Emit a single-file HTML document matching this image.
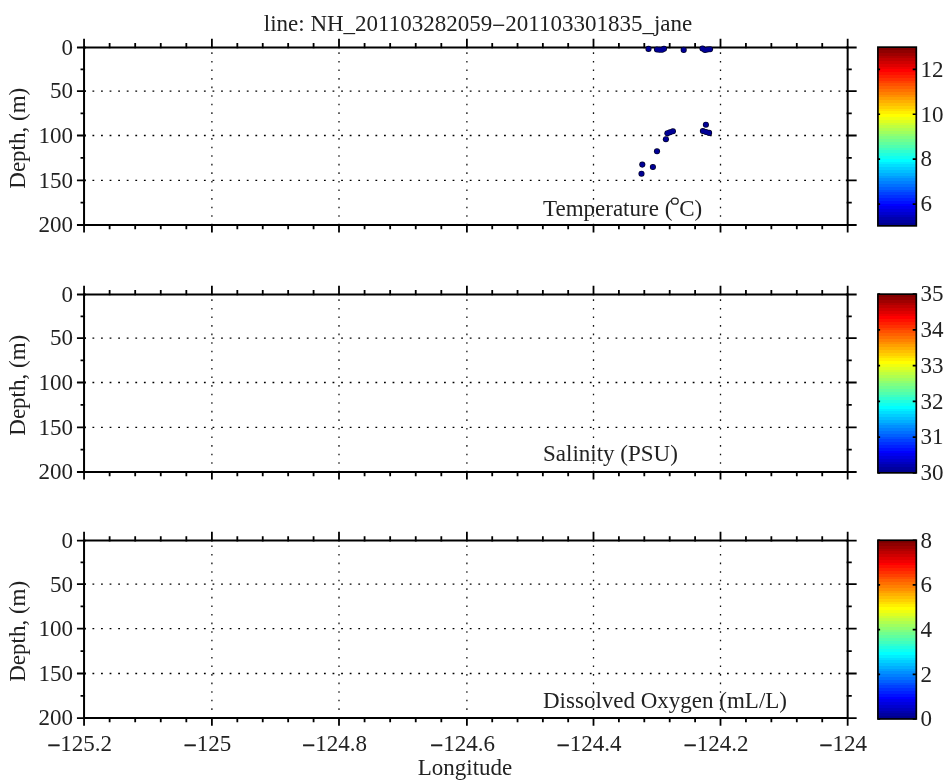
<!DOCTYPE html>
<html><head><meta charset="utf-8"><style>
html,body{margin:0;padding:0;background:#fff;width:950px;height:783px;overflow:hidden}
svg{display:block;position:absolute;left:0;top:0;will-change:transform}
svg text{font-family:"Liberation Serif",serif;fill:#222}
</style></head><body>
<svg width="950" height="783" viewBox="0 0 950 783">
<rect width="950" height="783" fill="#fff"/>
<defs><linearGradient id="jet" x1="0" y1="1" x2="0" y2="0"><stop offset="0.0000%" stop-color="#00008f"/><stop offset="1.5625%" stop-color="#00008f"/><stop offset="1.5625%" stop-color="#00009f"/><stop offset="3.1250%" stop-color="#00009f"/><stop offset="3.1250%" stop-color="#0000af"/><stop offset="4.6875%" stop-color="#0000af"/><stop offset="4.6875%" stop-color="#0000bf"/><stop offset="6.2500%" stop-color="#0000bf"/><stop offset="6.2500%" stop-color="#0000cf"/><stop offset="7.8125%" stop-color="#0000cf"/><stop offset="7.8125%" stop-color="#0000df"/><stop offset="9.3750%" stop-color="#0000df"/><stop offset="9.3750%" stop-color="#0000ef"/><stop offset="10.9375%" stop-color="#0000ef"/><stop offset="10.9375%" stop-color="#0000ff"/><stop offset="12.5000%" stop-color="#0000ff"/><stop offset="12.5000%" stop-color="#0010ff"/><stop offset="14.0625%" stop-color="#0010ff"/><stop offset="14.0625%" stop-color="#0020ff"/><stop offset="15.6250%" stop-color="#0020ff"/><stop offset="15.6250%" stop-color="#0030ff"/><stop offset="17.1875%" stop-color="#0030ff"/><stop offset="17.1875%" stop-color="#0040ff"/><stop offset="18.7500%" stop-color="#0040ff"/><stop offset="18.7500%" stop-color="#0050ff"/><stop offset="20.3125%" stop-color="#0050ff"/><stop offset="20.3125%" stop-color="#0060ff"/><stop offset="21.8750%" stop-color="#0060ff"/><stop offset="21.8750%" stop-color="#0070ff"/><stop offset="23.4375%" stop-color="#0070ff"/><stop offset="23.4375%" stop-color="#0080ff"/><stop offset="25.0000%" stop-color="#0080ff"/><stop offset="25.0000%" stop-color="#008fff"/><stop offset="26.5625%" stop-color="#008fff"/><stop offset="26.5625%" stop-color="#009fff"/><stop offset="28.1250%" stop-color="#009fff"/><stop offset="28.1250%" stop-color="#00afff"/><stop offset="29.6875%" stop-color="#00afff"/><stop offset="29.6875%" stop-color="#00bfff"/><stop offset="31.2500%" stop-color="#00bfff"/><stop offset="31.2500%" stop-color="#00cfff"/><stop offset="32.8125%" stop-color="#00cfff"/><stop offset="32.8125%" stop-color="#00dfff"/><stop offset="34.3750%" stop-color="#00dfff"/><stop offset="34.3750%" stop-color="#00efff"/><stop offset="35.9375%" stop-color="#00efff"/><stop offset="35.9375%" stop-color="#00ffff"/><stop offset="37.5000%" stop-color="#00ffff"/><stop offset="37.5000%" stop-color="#10ffef"/><stop offset="39.0625%" stop-color="#10ffef"/><stop offset="39.0625%" stop-color="#20ffdf"/><stop offset="40.6250%" stop-color="#20ffdf"/><stop offset="40.6250%" stop-color="#30ffcf"/><stop offset="42.1875%" stop-color="#30ffcf"/><stop offset="42.1875%" stop-color="#40ffbf"/><stop offset="43.7500%" stop-color="#40ffbf"/><stop offset="43.7500%" stop-color="#50ffaf"/><stop offset="45.3125%" stop-color="#50ffaf"/><stop offset="45.3125%" stop-color="#60ff9f"/><stop offset="46.8750%" stop-color="#60ff9f"/><stop offset="46.8750%" stop-color="#70ff8f"/><stop offset="48.4375%" stop-color="#70ff8f"/><stop offset="48.4375%" stop-color="#80ff80"/><stop offset="50.0000%" stop-color="#80ff80"/><stop offset="50.0000%" stop-color="#8fff70"/><stop offset="51.5625%" stop-color="#8fff70"/><stop offset="51.5625%" stop-color="#9fff60"/><stop offset="53.1250%" stop-color="#9fff60"/><stop offset="53.1250%" stop-color="#afff50"/><stop offset="54.6875%" stop-color="#afff50"/><stop offset="54.6875%" stop-color="#bfff40"/><stop offset="56.2500%" stop-color="#bfff40"/><stop offset="56.2500%" stop-color="#cfff30"/><stop offset="57.8125%" stop-color="#cfff30"/><stop offset="57.8125%" stop-color="#dfff20"/><stop offset="59.3750%" stop-color="#dfff20"/><stop offset="59.3750%" stop-color="#efff10"/><stop offset="60.9375%" stop-color="#efff10"/><stop offset="60.9375%" stop-color="#ffff00"/><stop offset="62.5000%" stop-color="#ffff00"/><stop offset="62.5000%" stop-color="#ffef00"/><stop offset="64.0625%" stop-color="#ffef00"/><stop offset="64.0625%" stop-color="#ffdf00"/><stop offset="65.6250%" stop-color="#ffdf00"/><stop offset="65.6250%" stop-color="#ffcf00"/><stop offset="67.1875%" stop-color="#ffcf00"/><stop offset="67.1875%" stop-color="#ffbf00"/><stop offset="68.7500%" stop-color="#ffbf00"/><stop offset="68.7500%" stop-color="#ffaf00"/><stop offset="70.3125%" stop-color="#ffaf00"/><stop offset="70.3125%" stop-color="#ff9f00"/><stop offset="71.8750%" stop-color="#ff9f00"/><stop offset="71.8750%" stop-color="#ff8f00"/><stop offset="73.4375%" stop-color="#ff8f00"/><stop offset="73.4375%" stop-color="#ff8000"/><stop offset="75.0000%" stop-color="#ff8000"/><stop offset="75.0000%" stop-color="#ff7000"/><stop offset="76.5625%" stop-color="#ff7000"/><stop offset="76.5625%" stop-color="#ff6000"/><stop offset="78.1250%" stop-color="#ff6000"/><stop offset="78.1250%" stop-color="#ff5000"/><stop offset="79.6875%" stop-color="#ff5000"/><stop offset="79.6875%" stop-color="#ff4000"/><stop offset="81.2500%" stop-color="#ff4000"/><stop offset="81.2500%" stop-color="#ff3000"/><stop offset="82.8125%" stop-color="#ff3000"/><stop offset="82.8125%" stop-color="#ff2000"/><stop offset="84.3750%" stop-color="#ff2000"/><stop offset="84.3750%" stop-color="#ff1000"/><stop offset="85.9375%" stop-color="#ff1000"/><stop offset="85.9375%" stop-color="#ff0000"/><stop offset="87.5000%" stop-color="#ff0000"/><stop offset="87.5000%" stop-color="#ef0000"/><stop offset="89.0625%" stop-color="#ef0000"/><stop offset="89.0625%" stop-color="#df0000"/><stop offset="90.6250%" stop-color="#df0000"/><stop offset="90.6250%" stop-color="#cf0000"/><stop offset="92.1875%" stop-color="#cf0000"/><stop offset="92.1875%" stop-color="#bf0000"/><stop offset="93.7500%" stop-color="#bf0000"/><stop offset="93.7500%" stop-color="#af0000"/><stop offset="95.3125%" stop-color="#af0000"/><stop offset="95.3125%" stop-color="#9f0000"/><stop offset="96.8750%" stop-color="#9f0000"/><stop offset="96.8750%" stop-color="#8f0000"/><stop offset="98.4375%" stop-color="#8f0000"/><stop offset="98.4375%" stop-color="#800000"/><stop offset="100.0000%" stop-color="#800000"/></linearGradient></defs>
<text x="478" y="30.5" text-anchor="middle" font-size="23">line: NH_201103282059<tspan dy="2.2" stroke="#222" stroke-width="0.3">&#8722;</tspan><tspan dy="-2.2">201103301835_jane</tspan></text>
<g stroke="#111" stroke-width="1.3" fill="none">
<path d="M211.90 48.8V224.0" stroke-dasharray="1.6 6.975" stroke-dashoffset="-3.5"/>
<path d="M339.00 48.8V224.0" stroke-dasharray="1.6 6.975" stroke-dashoffset="-3.5"/>
<path d="M466.90 48.8V224.0" stroke-dasharray="1.6 6.975" stroke-dashoffset="-3.5"/>
<path d="M593.50 48.8V224.0" stroke-dasharray="1.6 6.975" stroke-dashoffset="-3.5"/>
<path d="M720.50 48.8V224.0" stroke-dasharray="1.6 6.975" stroke-dashoffset="-3.5"/>
<path d="M85.05 91.10H842.66" stroke-dasharray="1.8 6.775" stroke-dashoffset="-7.4" stroke="#000" stroke-width="1.3"/>
<path d="M85.05 135.50H842.66" stroke-dasharray="1.8 6.775" stroke-dashoffset="-7.4" stroke="#000" stroke-width="1.3"/>
<path d="M85.05 180.40H842.66" stroke-dasharray="1.8 6.775" stroke-dashoffset="-7.4" stroke="#000" stroke-width="1.3"/>
</g>
<path d="M83.05 47.5H848.66M83.05 225.0H848.66M84.05 47.5V225.0M847.66 47.5V225.0" stroke="#000" stroke-width="2" fill="none"/>
<path d="M84.05 48.3V38.7M84.05 224.2V232.6 M109.62 48.3V43.1M109.62 224.2V229.2 M135.19 48.3V43.1M135.19 224.2V229.2 M160.76 48.3V43.1M160.76 224.2V229.2 M186.33 48.3V43.1M186.33 224.2V229.2 M211.90 48.3V38.7M211.90 224.2V232.6 M237.32 48.3V43.1M237.32 224.2V229.2 M262.74 48.3V43.1M262.74 224.2V229.2 M288.16 48.3V43.1M288.16 224.2V229.2 M313.58 48.3V43.1M313.58 224.2V229.2 M339.00 48.3V38.7M339.00 224.2V232.6 M364.58 48.3V43.1M364.58 224.2V229.2 M390.16 48.3V43.1M390.16 224.2V229.2 M415.74 48.3V43.1M415.74 224.2V229.2 M441.32 48.3V43.1M441.32 224.2V229.2 M466.90 48.3V38.7M466.90 224.2V232.6 M492.22 48.3V43.1M492.22 224.2V229.2 M517.54 48.3V43.1M517.54 224.2V229.2 M542.86 48.3V43.1M542.86 224.2V229.2 M568.18 48.3V43.1M568.18 224.2V229.2 M593.50 48.3V38.7M593.50 224.2V232.6 M618.90 48.3V43.1M618.90 224.2V229.2 M644.30 48.3V43.1M644.30 224.2V229.2 M669.70 48.3V43.1M669.70 224.2V229.2 M695.10 48.3V43.1M695.10 224.2V229.2 M720.50 48.3V38.7M720.50 224.2V232.6 M745.93 48.3V43.1M745.93 224.2V229.2 M771.36 48.3V43.1M771.36 224.2V229.2 M796.80 48.3V43.1M796.80 224.2V229.2 M822.23 48.3V43.1M822.23 224.2V229.2 M847.66 48.3V38.7M847.66 224.2V232.6 M85.85 47.50H76.95M845.86 47.50H856.66 M85.05 69.30H80.55M846.66 69.30H851.76 M85.85 91.10H76.95M845.86 91.10H856.66 M85.05 113.30H80.55M846.66 113.30H851.76 M85.85 135.50H76.95M845.86 135.50H856.66 M85.05 157.95H80.55M846.66 157.95H851.76 M85.85 180.40H76.95M845.86 180.40H856.66 M85.05 202.70H80.55M846.66 202.70H851.76 M85.85 225.00H76.95M845.86 225.00H856.66" stroke="#000" stroke-width="1.8" fill="none"/>
<text x="73" y="54.80" text-anchor="end" font-size="23">0</text>
<text x="73" y="98.40" text-anchor="end" font-size="23">50</text>
<text x="73" y="142.80" text-anchor="end" font-size="23">100</text>
<text x="73" y="187.70" text-anchor="end" font-size="23">150</text>
<text x="73" y="232.30" text-anchor="end" font-size="23">200</text>
<text transform="translate(24.5 138.25) rotate(-90)" text-anchor="middle" font-size="23">Depth, (m)</text>
<text x="543" y="215.70" font-size="23">Temperature (<tspan dx="6.9">C)</tspan></text>
<ellipse cx="674.85" cy="201.15" rx="3.35" ry="3.0" fill="none" stroke="#222" stroke-width="1.3"/>
<rect x="877.9" y="47.15" width="38.40" height="178.70" fill="url(#jet)" stroke="#000" stroke-width="1.7"/>
<text x="920.5" y="211.37" font-size="23">6</text>
<text x="920.5" y="166.47" font-size="23">8</text>
<text x="920.5" y="121.57" font-size="23">10</text>
<text x="920.5" y="76.68" font-size="23">12</text>
<path d="M877.9 204.07h2.2M916.3 204.07h-3.6 M877.9 159.17h2.2M916.3 159.17h-3.6 M877.9 114.27h2.2M916.3 114.27h-3.6 M877.9 69.38h2.2M916.3 69.38h-3.6" stroke="#000" stroke-width="1.7" fill="none"/>
<g stroke="#111" stroke-width="1.3" fill="none">
<path d="M211.90 295.8V471.0" stroke-dasharray="1.6 6.975" stroke-dashoffset="-3.5"/>
<path d="M339.00 295.8V471.0" stroke-dasharray="1.6 6.975" stroke-dashoffset="-3.5"/>
<path d="M466.90 295.8V471.0" stroke-dasharray="1.6 6.975" stroke-dashoffset="-3.5"/>
<path d="M593.50 295.8V471.0" stroke-dasharray="1.6 6.975" stroke-dashoffset="-3.5"/>
<path d="M720.50 295.8V471.0" stroke-dasharray="1.6 6.975" stroke-dashoffset="-3.5"/>
<path d="M85.05 338.10H842.66" stroke-dasharray="1.8 6.775" stroke-dashoffset="-7.4" stroke="#000" stroke-width="1.3"/>
<path d="M85.05 382.50H842.66" stroke-dasharray="1.8 6.775" stroke-dashoffset="-7.4" stroke="#000" stroke-width="1.3"/>
<path d="M85.05 427.40H842.66" stroke-dasharray="1.8 6.775" stroke-dashoffset="-7.4" stroke="#000" stroke-width="1.3"/>
</g>
<path d="M83.05 294.5H848.66M83.05 472.0H848.66M84.05 294.5V472.0M847.66 294.5V472.0" stroke="#000" stroke-width="2" fill="none"/>
<path d="M84.05 295.3V285.7M84.05 471.2V479.6 M109.62 295.3V290.1M109.62 471.2V476.2 M135.19 295.3V290.1M135.19 471.2V476.2 M160.76 295.3V290.1M160.76 471.2V476.2 M186.33 295.3V290.1M186.33 471.2V476.2 M211.90 295.3V285.7M211.90 471.2V479.6 M237.32 295.3V290.1M237.32 471.2V476.2 M262.74 295.3V290.1M262.74 471.2V476.2 M288.16 295.3V290.1M288.16 471.2V476.2 M313.58 295.3V290.1M313.58 471.2V476.2 M339.00 295.3V285.7M339.00 471.2V479.6 M364.58 295.3V290.1M364.58 471.2V476.2 M390.16 295.3V290.1M390.16 471.2V476.2 M415.74 295.3V290.1M415.74 471.2V476.2 M441.32 295.3V290.1M441.32 471.2V476.2 M466.90 295.3V285.7M466.90 471.2V479.6 M492.22 295.3V290.1M492.22 471.2V476.2 M517.54 295.3V290.1M517.54 471.2V476.2 M542.86 295.3V290.1M542.86 471.2V476.2 M568.18 295.3V290.1M568.18 471.2V476.2 M593.50 295.3V285.7M593.50 471.2V479.6 M618.90 295.3V290.1M618.90 471.2V476.2 M644.30 295.3V290.1M644.30 471.2V476.2 M669.70 295.3V290.1M669.70 471.2V476.2 M695.10 295.3V290.1M695.10 471.2V476.2 M720.50 295.3V285.7M720.50 471.2V479.6 M745.93 295.3V290.1M745.93 471.2V476.2 M771.36 295.3V290.1M771.36 471.2V476.2 M796.80 295.3V290.1M796.80 471.2V476.2 M822.23 295.3V290.1M822.23 471.2V476.2 M847.66 295.3V285.7M847.66 471.2V479.6 M85.85 294.50H76.95M845.86 294.50H856.66 M85.05 316.30H80.55M846.66 316.30H851.76 M85.85 338.10H76.95M845.86 338.10H856.66 M85.05 360.30H80.55M846.66 360.30H851.76 M85.85 382.50H76.95M845.86 382.50H856.66 M85.05 404.95H80.55M846.66 404.95H851.76 M85.85 427.40H76.95M845.86 427.40H856.66 M85.05 449.70H80.55M846.66 449.70H851.76 M85.85 472.00H76.95M845.86 472.00H856.66" stroke="#000" stroke-width="1.8" fill="none"/>
<text x="73" y="301.80" text-anchor="end" font-size="23">0</text>
<text x="73" y="345.40" text-anchor="end" font-size="23">50</text>
<text x="73" y="389.80" text-anchor="end" font-size="23">100</text>
<text x="73" y="434.70" text-anchor="end" font-size="23">150</text>
<text x="73" y="479.30" text-anchor="end" font-size="23">200</text>
<text transform="translate(24.5 385.25) rotate(-90)" text-anchor="middle" font-size="23">Depth, (m)</text>
<text x="543" y="460.70" font-size="23">Salinity (PSU)</text>
<rect x="877.9" y="294.15" width="38.40" height="178.70" fill="url(#jet)" stroke="#000" stroke-width="1.7"/>
<text x="920.5" y="480.15" font-size="23">30</text>
<text x="920.5" y="444.41" font-size="23">31</text>
<text x="920.5" y="408.67" font-size="23">32</text>
<text x="920.5" y="372.93" font-size="23">33</text>
<text x="920.5" y="337.19" font-size="23">34</text>
<text x="920.5" y="301.45" font-size="23">35</text>
<path d="M877.9 472.85h2.2M916.3 472.85h-3.6 M877.9 437.11h2.2M916.3 437.11h-3.6 M877.9 401.37h2.2M916.3 401.37h-3.6 M877.9 365.63h2.2M916.3 365.63h-3.6 M877.9 329.89h2.2M916.3 329.89h-3.6 M877.9 294.15h2.2M916.3 294.15h-3.6" stroke="#000" stroke-width="1.7" fill="none"/>
<g stroke="#111" stroke-width="1.3" fill="none">
<path d="M211.90 541.9V717.1" stroke-dasharray="1.6 6.975" stroke-dashoffset="-3.5"/>
<path d="M339.00 541.9V717.1" stroke-dasharray="1.6 6.975" stroke-dashoffset="-3.5"/>
<path d="M466.90 541.9V717.1" stroke-dasharray="1.6 6.975" stroke-dashoffset="-3.5"/>
<path d="M593.50 541.9V717.1" stroke-dasharray="1.6 6.975" stroke-dashoffset="-3.5"/>
<path d="M720.50 541.9V717.1" stroke-dasharray="1.6 6.975" stroke-dashoffset="-3.5"/>
<path d="M85.05 584.20H842.66" stroke-dasharray="1.8 6.775" stroke-dashoffset="-7.4" stroke="#000" stroke-width="1.3"/>
<path d="M85.05 628.60H842.66" stroke-dasharray="1.8 6.775" stroke-dashoffset="-7.4" stroke="#000" stroke-width="1.3"/>
<path d="M85.05 673.50H842.66" stroke-dasharray="1.8 6.775" stroke-dashoffset="-7.4" stroke="#000" stroke-width="1.3"/>
</g>
<path d="M83.05 540.6H848.66M83.05 718.1H848.66M84.05 540.6V718.1M847.66 540.6V718.1" stroke="#000" stroke-width="2" fill="none"/>
<path d="M84.05 541.4V531.8000000000001M84.05 717.3000000000001V725.7 M109.62 541.4V536.2M109.62 717.3000000000001V722.3000000000001 M135.19 541.4V536.2M135.19 717.3000000000001V722.3000000000001 M160.76 541.4V536.2M160.76 717.3000000000001V722.3000000000001 M186.33 541.4V536.2M186.33 717.3000000000001V722.3000000000001 M211.90 541.4V531.8000000000001M211.90 717.3000000000001V725.7 M237.32 541.4V536.2M237.32 717.3000000000001V722.3000000000001 M262.74 541.4V536.2M262.74 717.3000000000001V722.3000000000001 M288.16 541.4V536.2M288.16 717.3000000000001V722.3000000000001 M313.58 541.4V536.2M313.58 717.3000000000001V722.3000000000001 M339.00 541.4V531.8000000000001M339.00 717.3000000000001V725.7 M364.58 541.4V536.2M364.58 717.3000000000001V722.3000000000001 M390.16 541.4V536.2M390.16 717.3000000000001V722.3000000000001 M415.74 541.4V536.2M415.74 717.3000000000001V722.3000000000001 M441.32 541.4V536.2M441.32 717.3000000000001V722.3000000000001 M466.90 541.4V531.8000000000001M466.90 717.3000000000001V725.7 M492.22 541.4V536.2M492.22 717.3000000000001V722.3000000000001 M517.54 541.4V536.2M517.54 717.3000000000001V722.3000000000001 M542.86 541.4V536.2M542.86 717.3000000000001V722.3000000000001 M568.18 541.4V536.2M568.18 717.3000000000001V722.3000000000001 M593.50 541.4V531.8000000000001M593.50 717.3000000000001V725.7 M618.90 541.4V536.2M618.90 717.3000000000001V722.3000000000001 M644.30 541.4V536.2M644.30 717.3000000000001V722.3000000000001 M669.70 541.4V536.2M669.70 717.3000000000001V722.3000000000001 M695.10 541.4V536.2M695.10 717.3000000000001V722.3000000000001 M720.50 541.4V531.8000000000001M720.50 717.3000000000001V725.7 M745.93 541.4V536.2M745.93 717.3000000000001V722.3000000000001 M771.36 541.4V536.2M771.36 717.3000000000001V722.3000000000001 M796.80 541.4V536.2M796.80 717.3000000000001V722.3000000000001 M822.23 541.4V536.2M822.23 717.3000000000001V722.3000000000001 M847.66 541.4V531.8000000000001M847.66 717.3000000000001V725.7 M85.85 540.60H76.95M845.86 540.60H856.66 M85.05 562.40H80.55M846.66 562.40H851.76 M85.85 584.20H76.95M845.86 584.20H856.66 M85.05 606.40H80.55M846.66 606.40H851.76 M85.85 628.60H76.95M845.86 628.60H856.66 M85.05 651.05H80.55M846.66 651.05H851.76 M85.85 673.50H76.95M845.86 673.50H856.66 M85.05 695.80H80.55M846.66 695.80H851.76 M85.85 718.10H76.95M845.86 718.10H856.66" stroke="#000" stroke-width="1.8" fill="none"/>
<text x="73" y="547.90" text-anchor="end" font-size="23">0</text>
<text x="73" y="591.50" text-anchor="end" font-size="23">50</text>
<text x="73" y="635.90" text-anchor="end" font-size="23">100</text>
<text x="73" y="680.80" text-anchor="end" font-size="23">150</text>
<text x="73" y="725.40" text-anchor="end" font-size="23">200</text>
<text transform="translate(24.5 631.35) rotate(-90)" text-anchor="middle" font-size="23">Depth, (m)</text>
<text x="543" y="708.30" font-size="23">Dissolved Oxygen (mL/L)</text>
<rect x="877.9" y="540.25" width="38.40" height="178.70" fill="url(#jet)" stroke="#000" stroke-width="1.7"/>
<text x="920.5" y="726.25" font-size="23">0</text>
<text x="920.5" y="681.58" font-size="23">2</text>
<text x="920.5" y="636.90" font-size="23">4</text>
<text x="920.5" y="592.22" font-size="23">6</text>
<text x="920.5" y="547.55" font-size="23">8</text>
<path d="M877.9 718.95h2.2M916.3 718.95h-3.6 M877.9 674.28h2.2M916.3 674.28h-3.6 M877.9 629.60h2.2M916.3 629.60h-3.6 M877.9 584.92h2.2M916.3 584.92h-3.6 M877.9 540.25h2.2M916.3 540.25h-3.6" stroke="#000" stroke-width="1.7" fill="none"/>
<text x="79.75" y="750.6" text-anchor="middle" font-size="23"><tspan dy="2.5" stroke="#000" stroke-width="0.5">&#8722;</tspan><tspan dy="-2.5">125.2</tspan></text>
<text x="207.60" y="750.6" text-anchor="middle" font-size="23"><tspan dy="2.5" stroke="#000" stroke-width="0.5">&#8722;</tspan><tspan dy="-2.5">125</tspan></text>
<text x="334.70" y="750.6" text-anchor="middle" font-size="23"><tspan dy="2.5" stroke="#000" stroke-width="0.5">&#8722;</tspan><tspan dy="-2.5">124.8</tspan></text>
<text x="462.60" y="750.6" text-anchor="middle" font-size="23"><tspan dy="2.5" stroke="#000" stroke-width="0.5">&#8722;</tspan><tspan dy="-2.5">124.6</tspan></text>
<text x="589.20" y="750.6" text-anchor="middle" font-size="23"><tspan dy="2.5" stroke="#000" stroke-width="0.5">&#8722;</tspan><tspan dy="-2.5">124.4</tspan></text>
<text x="716.20" y="750.6" text-anchor="middle" font-size="23"><tspan dy="2.5" stroke="#000" stroke-width="0.5">&#8722;</tspan><tspan dy="-2.5">124.2</tspan></text>
<text x="843.36" y="750.6" text-anchor="middle" font-size="23"><tspan dy="2.5" stroke="#000" stroke-width="0.5">&#8722;</tspan><tspan dy="-2.5">124</tspan></text>
<text x="465" y="774.8" text-anchor="middle" font-size="23">Longitude</text>
<circle cx="648.5" cy="48.9" r="3.05" fill="#00002a"/>
<circle cx="657" cy="49.5" r="3.05" fill="#00002a"/>
<circle cx="659.5" cy="49.8" r="3.05" fill="#00002a"/>
<circle cx="662" cy="49.8" r="3.05" fill="#00002a"/>
<circle cx="664" cy="48.8" r="3.05" fill="#00002a"/>
<circle cx="683.7" cy="49.9" r="3.05" fill="#00002a"/>
<circle cx="702.5" cy="48.6" r="3.05" fill="#00002a"/>
<circle cx="705" cy="50" r="3.05" fill="#00002a"/>
<circle cx="707.5" cy="49.5" r="3.05" fill="#00002a"/>
<circle cx="710" cy="49.3" r="3.05" fill="#00002a"/>
<circle cx="705.9" cy="124.7" r="3.05" fill="#00002a"/>
<circle cx="702.9" cy="131" r="3.05" fill="#00002a"/>
<circle cx="706" cy="132" r="3.05" fill="#00002a"/>
<circle cx="709.1" cy="132.9" r="3.05" fill="#00002a"/>
<circle cx="672.9" cy="131.3" r="3.05" fill="#00002a"/>
<circle cx="670" cy="132.2" r="3.05" fill="#00002a"/>
<circle cx="667.4" cy="133.2" r="3.05" fill="#00002a"/>
<circle cx="665.9" cy="139.2" r="3.05" fill="#00002a"/>
<circle cx="657" cy="151.3" r="3.05" fill="#00002a"/>
<circle cx="642.3" cy="164.6" r="3.05" fill="#00002a"/>
<circle cx="652.9" cy="167" r="3.05" fill="#00002a"/>
<circle cx="641.5" cy="173.7" r="3.05" fill="#00002a"/>
<circle cx="648.5" cy="48.9" r="2.35" fill="#000096"/>
<circle cx="657" cy="49.5" r="2.35" fill="#000096"/>
<circle cx="659.5" cy="49.8" r="2.35" fill="#000096"/>
<circle cx="662" cy="49.8" r="2.35" fill="#000096"/>
<circle cx="664" cy="48.8" r="2.35" fill="#000096"/>
<circle cx="683.7" cy="49.9" r="2.35" fill="#000096"/>
<circle cx="702.5" cy="48.6" r="2.35" fill="#000096"/>
<circle cx="705" cy="50" r="2.35" fill="#000096"/>
<circle cx="707.5" cy="49.5" r="2.35" fill="#000096"/>
<circle cx="710" cy="49.3" r="2.35" fill="#000096"/>
<circle cx="705.9" cy="124.7" r="2.35" fill="#000096"/>
<circle cx="702.9" cy="131" r="2.35" fill="#000096"/>
<circle cx="706" cy="132" r="2.35" fill="#000096"/>
<circle cx="709.1" cy="132.9" r="2.35" fill="#000096"/>
<circle cx="672.9" cy="131.3" r="2.35" fill="#000096"/>
<circle cx="670" cy="132.2" r="2.35" fill="#000096"/>
<circle cx="667.4" cy="133.2" r="2.35" fill="#000096"/>
<circle cx="665.9" cy="139.2" r="2.35" fill="#000096"/>
<circle cx="657" cy="151.3" r="2.35" fill="#000096"/>
<circle cx="642.3" cy="164.6" r="2.35" fill="#000096"/>
<circle cx="652.9" cy="167" r="2.35" fill="#000096"/>
<circle cx="641.5" cy="173.7" r="2.35" fill="#000096"/>
</svg>
</body></html>
